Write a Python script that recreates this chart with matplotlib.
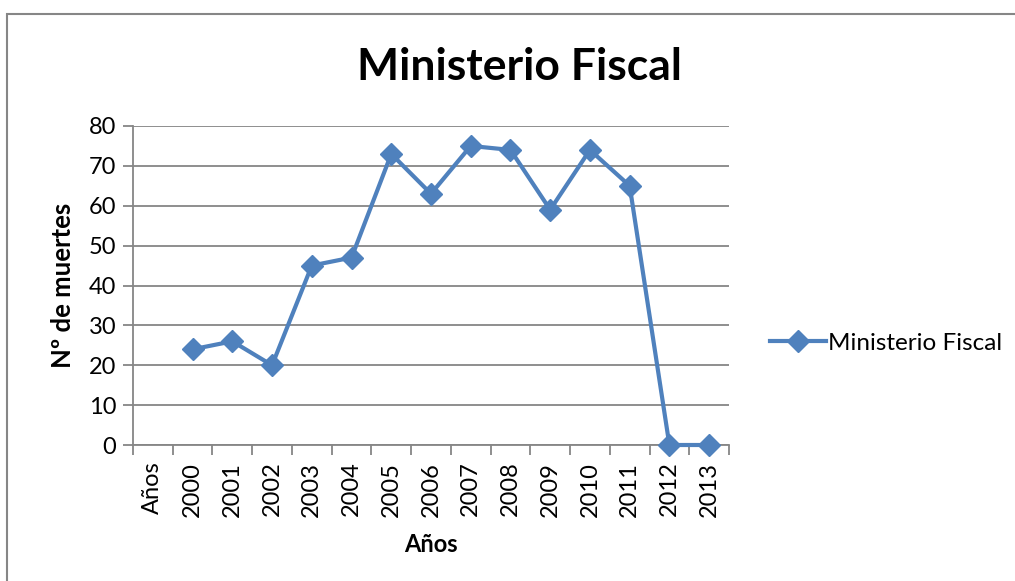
import numpy as np
import matplotlib
matplotlib.use("Agg")
import matplotlib.pyplot as plt
from matplotlib.patches import Rectangle

plt.rcParams['font.family'] = ['Lato', 'DejaVu Sans']

categories = ["Años", "2000", "2001", "2002", "2003", "2004", "2005", "2006",
              "2007", "2008", "2009", "2010", "2011", "2012", "2013"]
muertes = [np.nan, 24, 26, 20, 45, 47, 73, 63, 75, 74, 59, 74, 65, 0, 0]
y_ticks = [0, 10, 20, 30, 40, 50, 60, 70, 80]

line_color = '#4F81BD'
grid_color = '#868686'

fig = plt.figure(figsize=(10.15, 5.81), dpi=100)
ax = fig.add_axes([133/1015, 1-445/581, (729-133)/1015, (445-126)/581])

x = np.arange(len(categories))
ax.plot(x, muertes, color=line_color, lw=3, marker='D', markersize=11,
        label='Ministerio Fiscal', clip_on=False, zorder=3)

ax.set_xlim(-0.5, len(categories) - 0.5)
ax.set_ylim(0, 80)
ax.set_yticks(y_ticks)
ax.yaxis.grid(True, color=grid_color, lw=1.3)
ax.set_axisbelow(True)

# ticks between categories, labels at the centres
ax.set_xticks(np.arange(len(categories) + 1) - 0.5)
ax.set_xticklabels([])
ax.set_xticks(x, minor=True)
ax.set_xticklabels(categories, minor=True, rotation=90, fontsize=17)
ax.tick_params(axis='x', which='minor', length=0, pad=12)
ax.tick_params(axis='x', which='major', length=7, width=1.3, color=grid_color)
ax.tick_params(axis='y', length=7, width=1.3, color=grid_color, labelsize=17, pad=5)

for s in ['top', 'right']:
    ax.spines[s].set_visible(False)
for s in ['left', 'bottom']:
    ax.spines[s].set_color(grid_color)
    ax.spines[s].set_linewidth(1.3)

ax.set_ylabel("Nº de muertes", fontsize=18.5, fontweight='bold', labelpad=10)
ax.set_xlabel("Años", fontsize=17, fontweight='bold', labelpad=12)

fig.text(519/1015, 1-67/581, "Ministerio Fiscal", fontsize=32, fontweight='bold',
         ha='center', va='center')

ax.legend(loc='center left', bbox_to_anchor=(760/1015, 1-343/581),
          bbox_transform=fig.transFigure, frameon=False, fontsize=17.5,
          handlelength=2.3, handletextpad=0.1, borderaxespad=0)

fig.patches.append(Rectangle((7/1015, -0.1), 1.2, 1.1 - 14.5/581,
                             transform=fig.transFigure, fill=False,
                             edgecolor=grid_color, lw=1.5, figure=fig))

fig.savefig("out.png", dpi=100)
